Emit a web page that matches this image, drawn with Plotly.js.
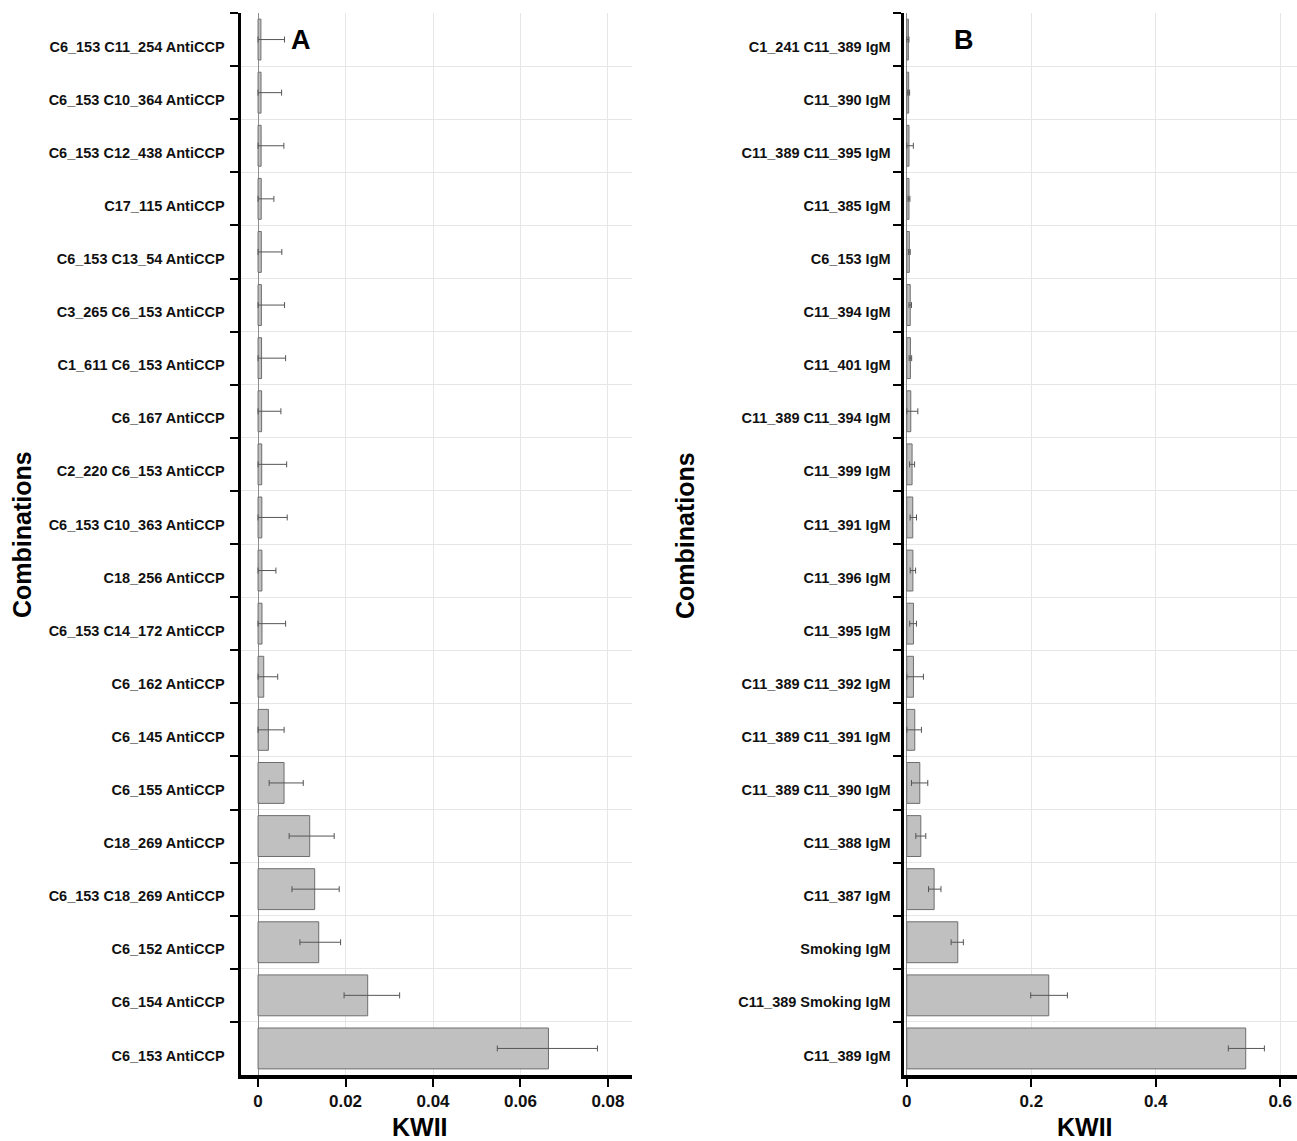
<!DOCTYPE html>
<html>
<head>
<meta charset="utf-8">
<script src="https://cdn.plot.ly/plotly-3.0.1.min.js"></script>
<style>html,body{margin:0;padding:0;background:#fff;}#chart{width:1297px;height:1141px;}</style>
</head>
<body>
<div id="chart"></div>
<script>
// Panel A (listed top to bottom)
const catsA = ["C6_153 C11_254 AntiCCP","C6_153 C10_364 AntiCCP","C6_153 C12_438 AntiCCP","C17_115 AntiCCP","C6_153 C13_54 AntiCCP","C3_265 C6_153 AntiCCP","C1_611 C6_153 AntiCCP","C6_167 AntiCCP","C2_220 C6_153 AntiCCP","C6_153 C10_363 AntiCCP","C18_256 AntiCCP","C6_153 C14_172 AntiCCP","C6_162 AntiCCP","C6_145 AntiCCP","C6_155 AntiCCP","C18_269 AntiCCP","C6_153 C18_269 AntiCCP","C6_152 AntiCCP","C6_154 AntiCCP","C6_153 AntiCCP"];
const valsA = [0.00065,0.00068,0.0007,0.00072,0.00074,0.00076,0.0008,0.00082,0.00084,0.00086,0.00088,0.0009,0.0013,0.00236,0.00594,0.01181,0.01295,0.01387,0.02507,0.0664];
const errPlusA = [0.0054,0.0047,0.0052,0.0029,0.0047,0.0053,0.0055,0.0044,0.0057,0.0058,0.0032,0.0054,0.0032,0.0036,0.0044,0.0056,0.0056,0.0050,0.0073,0.0112];
const errMinusA = [0.00065,0.00068,0.0007,0.00072,0.00074,0.00076,0.0008,0.00082,0.00084,0.00086,0.00088,0.0009,0.0013,0.00236,0.0034,0.0047,0.0052,0.0043,0.0054,0.0117];

// Panel B (listed top to bottom)
const catsB = ["C1_241 C11_389 IgM","C11_390 IgM","C11_389 C11_395 IgM","C11_385 IgM","C6_153 IgM","C11_394 IgM","C11_401 IgM","C11_389 C11_394 IgM","C11_399 IgM","C11_391 IgM","C11_396 IgM","C11_395 IgM","C11_389 C11_392 IgM","C11_389 C11_391 IgM","C11_389 C11_390 IgM","C11_388 IgM","C11_387 IgM","Smoking IgM","C11_389 Smoking IgM","C11_389 IgM"];
const valsB = [0.0025,0.003,0.0035,0.0035,0.004,0.0055,0.0058,0.0064,0.0085,0.0096,0.0098,0.0107,0.0107,0.0128,0.0209,0.0225,0.0439,0.0819,0.2281,0.5446];
const errPlusB = [0.001,0.0015,0.007,0.0015,0.0015,0.002,0.002,0.0113,0.004,0.006,0.0043,0.0048,0.016,0.0107,0.0128,0.008,0.011,0.009,0.030,0.030];
const errMinusB = [0.0025,0.0015,0.0035,0.0015,0.0015,0.002,0.002,0.0064,0.004,0.0043,0.0043,0.006,0.0107,0.0128,0.0134,0.008,0.009,0.0107,0.029,0.028];

const W = 1297, H = 1141;
const font = "Liberation Sans, Arial, Helvetica, sans-serif";
const barStyle = {color: "#c0c0c0", line: {color: "#6e6e6e", width: 1}};
const errStyle = {type: "data", symmetric: false, color: "#555555", thickness: 1, width: 3};

const traces = [
  {type: "bar", orientation: "h", x: valsA, y: catsA, xaxis: "x", yaxis: "y",
   marker: barStyle, error_x: Object.assign({array: errPlusA, arrayminus: errMinusA}, errStyle), hoverinfo: "x+y"},
  {type: "bar", orientation: "h", x: valsB, y: catsB, xaxis: "x2", yaxis: "y2",
   marker: barStyle, error_x: Object.assign({array: errPlusB, arrayminus: errMinusB}, errStyle), hoverinfo: "x+y"}
];

const yDom = [1 - 1075 / H, 1 - 13 / H];
const domA = [241 / W, 632 / W];
const domB = [904 / W, 1];

function xAxis(dom, range, dtick, anchor) {
  return {
    domain: dom, range: range, anchor: anchor, dtick: dtick, tick0: 0,
    showline: true, linecolor: "#000", linewidth: 3.5,
    ticks: "outside", ticklen: 8, tickwidth: 2, tickcolor: "#000",
    showgrid: true, gridcolor: "#e6e6e6", gridwidth: 1,
    zeroline: true, zerolinecolor: "#8c8c8c", zerolinewidth: 1,
    tickfont: {family: font, size: 17, color: "#111", weight: "bold"},
    fixedrange: true
  };
}
function xOverlay(over, range, dtick, anchor) {
  return {overlaying: over, range: range, anchor: anchor, tick0: 0, dtick: dtick,
    ticks: "inside", ticklen: 9, tickwidth: 2, tickcolor: "#000",
    showticklabels: false, showgrid: false, zeroline: false, showline: false, fixedrange: true};
}
function yAxis(cats, anchor, standoff) {
  return {
    domain: yDom, anchor: anchor, type: "category", categoryorder: "array", categoryarray: cats,
    autorange: "reversed", tickson: "boundaries",
    showline: true, linecolor: "#000", linewidth: 3.5,
    ticks: "outside", ticklen: 8, tickwidth: 2, tickcolor: "#000",
    showgrid: true, gridcolor: "#e6e6e6", gridwidth: 1, zeroline: false,
    ticklabelstandoff: standoff, ticklabelshift: -7,
    tickfont: {family: font, size: 14.5, color: "#111", weight: "bold"},
    fixedrange: true
  };
}
function yOverlay(over, anchor) {
  return {overlaying: over, anchor: anchor, range: [catsA.length - 0.5, -0.5], tick0: -0.5, dtick: 1,
    ticks: "inside", ticklen: 10, tickwidth: 2, tickcolor: "#000",
    showticklabels: false, showgrid: false, zeroline: false, showline: false, fixedrange: true};
}

const rangeA = [-0.0039, 0.0855];
const rangeB = [-0.0045, 0.627];

function ann(text, x, y, size, angle) {
  return {text: text, xref: "paper", yref: "paper", x: x / W, y: 1 - y / H, xanchor: "center", yanchor: "middle",
    textangle: angle || 0, showarrow: false, font: {family: font, size: size, color: "#000", weight: "bold"}};
}

const layout = {
  width: W, height: H,
  margin: {l: 0, r: 0, t: 0, b: 0},
  paper_bgcolor: "#fff", plot_bgcolor: "rgba(0,0,0,0)",
  showlegend: false, bargap: 0.23,
  xaxis: xAxis(domA, rangeA, 0.02, "y"),
  yaxis: yAxis(catsA, "x", 10),
  xaxis2: xAxis(domB, rangeB, 0.2, "y2"),
  yaxis2: yAxis(catsB, "x2", 7),
  xaxis3: xOverlay("x", rangeA, 0.01, "y"),
  xaxis4: xOverlay("x2", rangeB, 0.1, "y2"),
  yaxis3: yOverlay("y", "x"),
  yaxis4: yOverlay("y2", "x2"),
  annotations: [
    ann("A", 301, 40, 27),
    ann("B", 964, 40, 27),
    ann("Combinations", 22, 535, 25, -90),
    ann("Combinations", 685, 535, 25, -90),
    ann("KWII", 420, 1127, 25),
    ann("KWII", 1085, 1127, 25)
  ]
};

Plotly.newPlot("chart", traces, layout, {displayModeBar: false, staticPlot: true});
</script>
</body>
</html>
